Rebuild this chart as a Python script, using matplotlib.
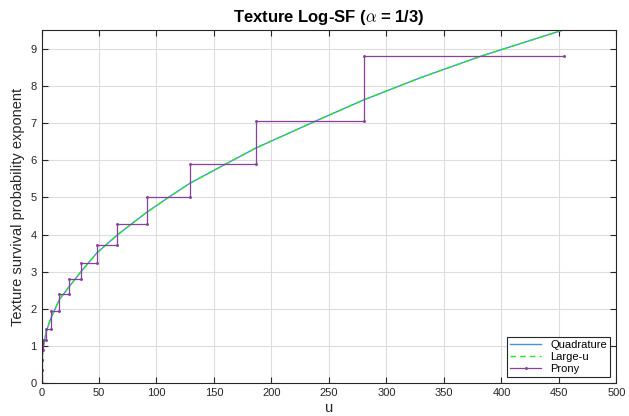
import numpy as np
import matplotlib
matplotlib.use('Agg')
import matplotlib.pyplot as plt

# Values
u_curve = [0, 0.05, 0.3, 1, 2, 4, 8, 15.5, 24.1, 34.3, 47.9, 65.9, 78.4, 91.5,
           110.3, 128.9, 159.6, 186.3, 239.3, 280.4, 330, 381.7, 452.6]
quad = [0, 0.3, 0.55, 0.85, 1.05, 1.38, 1.74, 2.25, 2.6, 3.0, 3.5, 3.99, 4.29, 4.6,
        5.0, 5.38, 5.89, 6.33, 7.07, 7.63, 8.23, 8.8, 9.5]
large_u = [0, 0.3, 0.55, 0.85, 1.05, 1.38, 1.74, 2.25, 2.6, 3.0, 3.5, 3.99, 4.29, 4.6,
           5.0, 5.38, 5.89, 6.33, 7.07, 7.63, 8.23, 8.8, 9.5]

prony_edges = [0, 0.1, 0.4, 1.6, 4.0, 8.0, 15.5, 24.1, 34.3, 47.9, 65.9, 91.5,
               128.9, 186.3, 280.4, 454.6]
prony_levels = [0.35, 0.62, 0.89, 1.16, 1.45, 1.95, 2.40, 2.80, 3.24, 3.73, 4.29,
                5.0, 5.89, 7.07, 8.80]

# staircase corners: (edge_i, level_i) -> (edge_i+1, level_i)
px = [0]
py = [0]
for i in range(len(prony_levels)):
    px += [prony_edges[i], prony_edges[i + 1]]
    py += [prony_levels[i], prony_levels[i]]

plt.rcParams['font.family'] = ['Liberation Sans', 'DejaVu Sans']
plt.rcParams['mathtext.fontset'] = 'cm'

fig = plt.figure(figsize=(6.29, 4.16), dpi=100)
ax = fig.add_axes([0.066, 0.079, 0.914, 0.848])

ax.plot(u_curve, quad, color='#4A90D9', lw=1.0, label='Quadrature')
ax.plot(u_curve, large_u, color='#22EE22', lw=1.0, ls=(0, (4, 3)), label='Large-u')
ax.plot(px, py, color='#8A3F9A', lw=0.9, marker='.', ms=2.2, label='Prony')

ax.set_xlim(0, 500)
ax.set_ylim(0, 9.5)
ax.set_xticks(np.arange(0, 501, 50))
ax.set_yticks(np.arange(0, 10, 1))
ax.grid(True, color='#DDDDDD', lw=0.8)
ax.set_axisbelow(True)
ax.tick_params(direction='in', top=True, right=True, labelsize=8,
               colors='#262626', length=4)
for s in ax.spines.values():
    s.set_color('#262626')
    s.set_linewidth(0.8)

ax.set_title(r'Texture Log-SF ($\alpha$ = 1/3)', fontsize=12, fontweight='bold', pad=6)
ax.set_xlabel('u', fontsize=10.5, color='#262626', labelpad=2.5)
ax.set_ylabel('Texture survival probability exponent', fontsize=10.5, color='#262626',
              labelpad=4)

leg = ax.legend(loc='lower right', fontsize=8, fancybox=False, framealpha=1,
                edgecolor='#262626', borderpad=0.3, labelspacing=0.15,
                handlelength=2.8, borderaxespad=0.55)
leg.get_frame().set_linewidth(0.8)

fig.savefig('out.png', dpi=100)
